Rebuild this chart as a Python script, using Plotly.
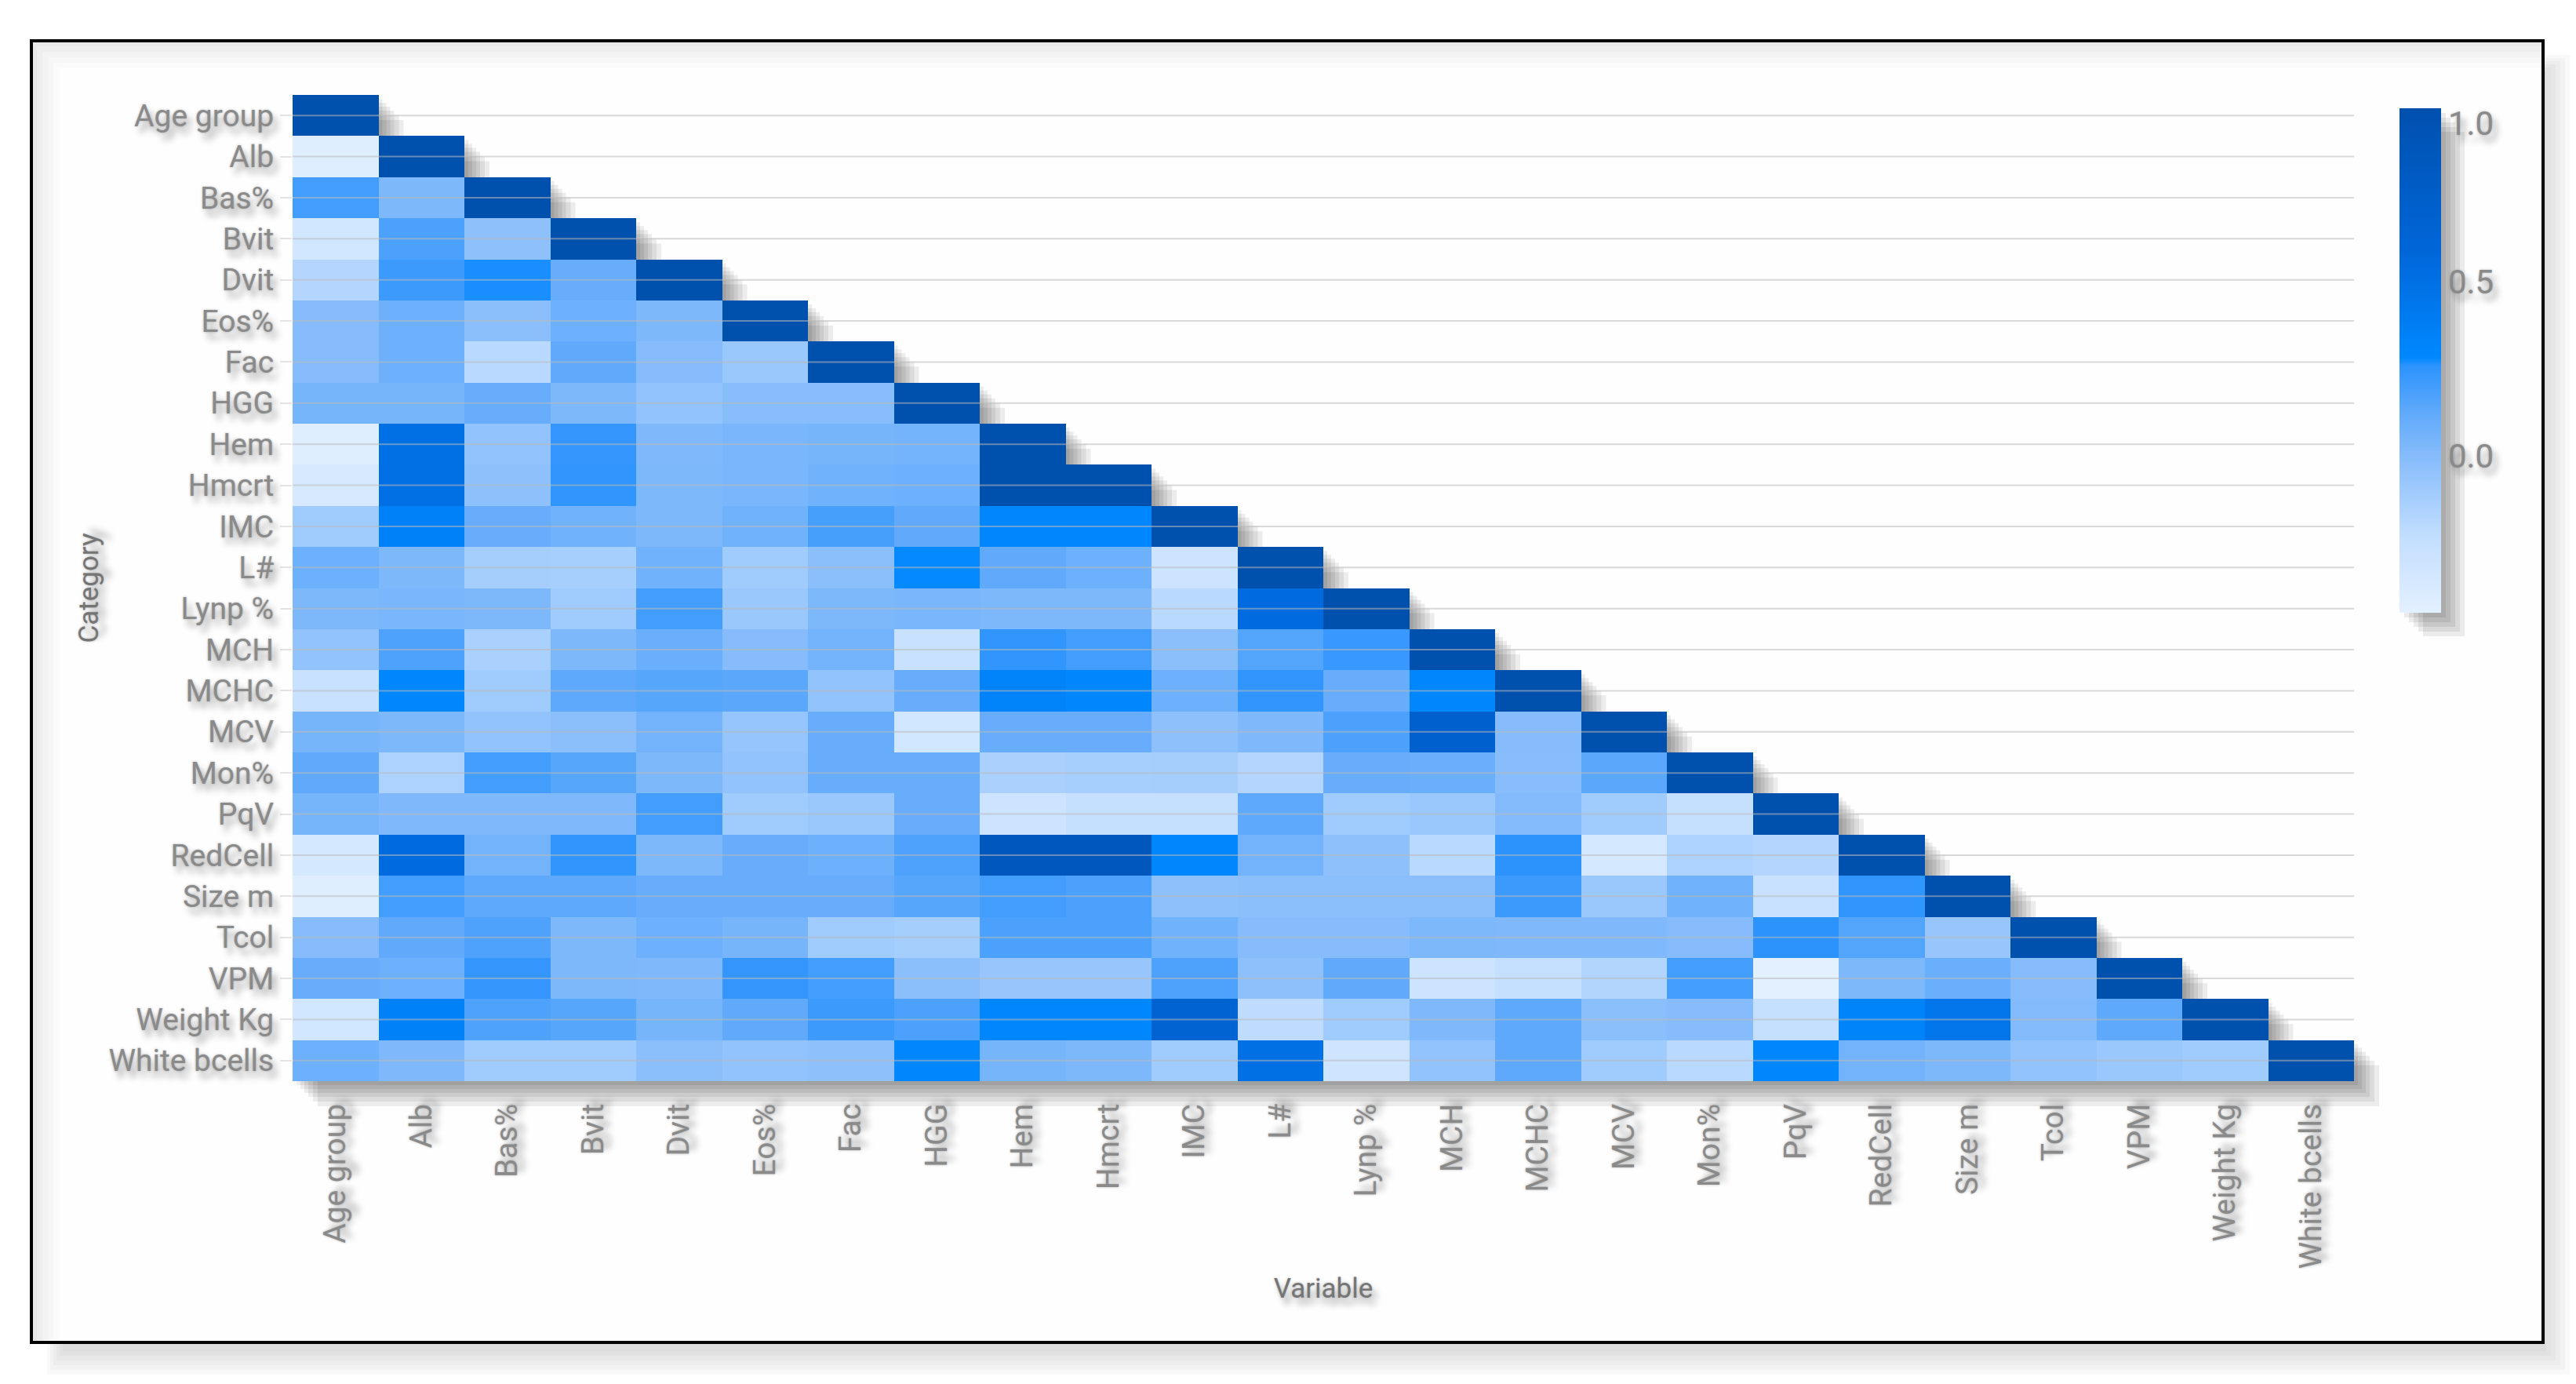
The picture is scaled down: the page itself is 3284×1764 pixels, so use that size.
import plotly.graph_objects as go

variables = ["Age group","Alb","Bas%","Bvit","Dvit","Eos%","Fac","HGG","Hem","Hmcrt","IMC","L#","Lynp %",
             "MCH","MCHC","MCV","Mon%","PqV","RedCell","Size m","Tcol","VPM","Weight Kg","White bcells"]

row_age = [1]
row_alb = [-.42,1]
row_bas = [.2,.03,1]
row_bvit = [-.33,.18,-.03,1]
row_dvit = [-.18,.22,.27,.1,1]
row_eos = [0,.08,-.02,.08,.03,1]
row_fac = [0,.08,-.2,.12,0,-.08,1]
row_hgg = [.05,.05,.1,.03,-.05,-.01,-.01,1]
row_hem = [-.42,.5,-.05,.24,.02,.04,.05,.06,1]
row_hmcrt = [-.37,.5,-.03,.25,.03,.04,.07,.08,1,1]
row_imc = [-.1,.35,.1,.07,.03,.07,.19,.12,.29,.3,1]
row_l = [.08,.03,-.12,-.13,.07,-.1,-.02,.28,.12,.08,-.3,1]
row_lynp = [.03,.04,.03,-.1,.2,-.08,.03,.04,.03,.03,-.2,.55,1]
row_mch = [-.05,.17,-.14,.03,.09,0,.06,-.27,.25,.2,-.02,.16,.23,1]
row_mchc = [-.27,.3,-.1,.13,.15,.14,-.05,.1,.33,.3,.08,.25,.1,.3,1]
row_mcv = [.05,.03,-.05,-.02,.06,-.06,.1,-.33,.1,.1,-.03,.02,.18,.7,0,1]
row_mon = [.12,-.15,.2,.15,.03,-.05,.1,.1,-.14,-.13,-.12,-.18,.1,.09,-.01,.14,1]
row_pqv = [.05,.02,.02,.02,.2,-.1,-.08,.1,-.3,-.25,-.25,.13,-.1,-.08,.01,-.1,-.25,1]
row_redcell = [-.35,.55,.06,.25,.03,.1,.08,.17,.85,.85,.3,.06,-.03,-.2,.26,-.35,-.15,-.18,1]
row_size = [-.42,.2,.13,.13,.1,.1,.1,.15,.2,.18,-.03,-.02,-.02,-.02,.22,-.08,.07,-.27,.25,1]
row_tcol = [0,.12,.17,.03,.08,.05,-.1,-.12,.18,.18,.07,0,0,.03,.02,.02,0,.26,.16,-.07,1]
row_vpm = [.1,.08,.24,.03,.02,.24,.2,-.02,-.07,-.07,.17,-.03,.12,-.3,-.25,-.17,.2,-.45,.03,.09,0,1]
row_weight = [-.33,.35,.17,.15,.05,.12,.22,.18,.3,.3,.65,-.22,-.1,.02,.13,-.02,0,-.25,.32,.45,.01,.13,1]
row_white = [.08,.02,-.1,-.1,-.02,-.05,-.03,.3,.05,.03,-.1,.5,-.32,-.05,.13,-.1,-.2,.3,.06,.03,-.05,-.08,-.1,1]

rows = [row_age,row_alb,row_bas,row_bvit,row_dvit,row_eos,row_fac,row_hgg,row_hem,row_hmcrt,row_imc,row_l,
        row_lynp,row_mch,row_mchc,row_mcv,row_mon,row_pqv,row_redcell,row_size,row_tcol,row_vpm,row_weight,row_white]
n = len(variables)
z = [r + [None]*(n-len(r)) for r in rows]

W, H = 3284, 1764
L, R, T, B = 373, 3001, 121, 1378
px = lambda x: (x-L)/(R-L)
py = lambda y: (B-y)/(B-T)
ux = (R-L)/n
uy = (B-T)/n

scale = [[0,"#e3f0ff"],[.15,"#c2deff"],[.31,"#86bcfb"],[.40,"#5ea9fb"],[.49,"#2c93fd"],[.505,"#0088ff"],
         [.72,"#0066d8"],[1,"#0050ae"]]
tick_shadow = "0 0 3px rgba(130,130,130,.55), 6px 9px 8px rgba(0,0,0,.33)"

fig = go.Figure()
fig.add_trace(go.Heatmap(z=z, x=variables, y=variables, zmin=-.45, zmax=1, colorscale=scale, xgap=0, ygap=0,
    hoverongaps=False,
    colorbar=dict(x=px(3059), xanchor="left", xpad=0, y=py(138), yanchor="top", ypad=0,
                  lenmode="pixels", len=643, thicknessmode="pixels", thickness=53, outlinewidth=0, borderwidth=0,
                  tickvals=[0,.5,.957], ticktext=["0.0","0.5","1.0"], ticks="", ticklabelposition="outside",
                  tickfont=dict(family="Roboto", size=42, color="#8a8a8a", shadow=tick_shadow))))

shapes = []
# page frame and its soft shadows
for k in range(6):
    shapes.append(dict(type="rect", xref="paper", yref="paper", layer="below", line_width=0,
        x0=px(60+k*4), x1=px(3276-k*6), y0=py(70+k*4), y1=py(1752-k*6), fillcolor="rgba(0,0,0,.022)"))
for k, c in enumerate(["#e9e9e9","#eeeeee","#f3f3f3","#f7f7f7","#fbfbfb","#fefefe"]):
    shapes.append(dict(type="rect", xref="paper", yref="paper", layer="below", line_width=0,
        x0=px(40+k*7), x1=px(3242), y0=py(52+k*7), y1=py(1711), fillcolor=c))
shapes.append(dict(type="rect", xref="paper", yref="paper", layer="below", line=dict(color="#000000", width=4),
    x0=px(40), x1=px(3242), y0=py(52), y1=py(1711), fillcolor="rgba(0,0,0,0)"))
# cell staircase shadow, soft and slightly offset
for d in [5,10,15,20,26,32]:
    a = .07
    for i in range(n):
        shapes.append(dict(type="rect", xref="paper", yref="paper", layer="below", line_width=0, fillcolor=f"rgba(0,0,0,{a})",
            x0=px(L+(i+1)*ux), x1=px(L+(i+1)*ux+d), y0=py(T+i*uy+d), y1=py(T+(i+1)*uy+d)))
    shapes.append(dict(type="rect", xref="paper", yref="paper", layer="below", line_width=0, fillcolor=f"rgba(0,0,0,{a})",
        x0=px(L+d), x1=px(R), y0=py(B), y1=py(B+d)))
# colorbar shadow
for d in [6,12,18,24,30]:
    shapes.append(dict(type="rect", xref="paper", yref="paper", layer="below", line_width=0, fillcolor="rgba(0,0,0,.075)",
        x0=px(3059+d), x1=px(3112+d), y0=py(138+d), y1=py(781+d)))
# row lines above the cells
for i in range(n):
    shapes.append(dict(type="line", xref="x", yref="y", layer="above", x0=-.5, x1=n-.5, y0=i, y1=i,
                       line=dict(color="rgba(185,185,185,.55)", width=2)))

fig.update_layout(
    width=W, height=H, paper_bgcolor="#ffffff", plot_bgcolor="rgba(0,0,0,0)",
    margin=dict(l=L, r=W-R, t=T, b=H-B, pad=0), shapes=shapes, showlegend=False,
    font=dict(family="Roboto"),
    xaxis=dict(type="category", categoryorder="array", categoryarray=variables, range=[-.5,n-.5],
               showgrid=False, zeroline=False, tickangle=-90, ticks="", ticklabelstandoff=20,
               tickfont=dict(family="Roboto", size=39, color="#8a8a8a", shadow=tick_shadow),
               title=dict(text="Variable", standoff=12, font=dict(family="Roboto", size=35, color="#757575", shadow=tick_shadow))),
    yaxis=dict(type="category", categoryorder="array", categoryarray=variables, range=[n-.5,-.5],
               showgrid=False, zeroline=False, ticks="outside", ticklen=15, tickcolor="#e4e4e4", tickwidth=2,
               tickfont=dict(family="Roboto", size=39, color="#8a8a8a", shadow=tick_shadow),
               title=dict(text="Category", standoff=2, font=dict(family="Roboto", size=35, color="#757575", shadow=tick_shadow))),
)
fig.write_html("out.html", config=dict(displayModeBar=False),
               post_script="document.body.style.margin='0';document.body.style.overflow='hidden';")
